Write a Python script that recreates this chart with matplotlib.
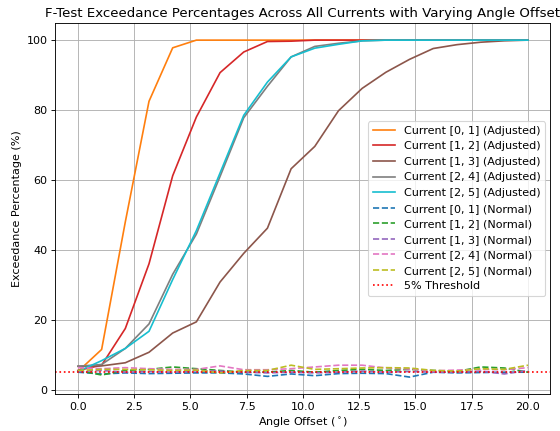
import numpy as np
import matplotlib
matplotlib.use("Agg")
import matplotlib.pyplot as plt

# angle offsets (degrees), 20 steps from 0 to 20
angles = np.linspace(0, 20, 20)

currents = ["[0, 1]", "[1, 2]", "[1, 3]", "[2, 4]", "[2, 5]"]

# adjusted F-test exceedance (%)
adj_01 = [5.2, 11.5, 48, 82.5, 97.8, 100, 100, 100, 100, 100,
          100, 100, 100, 100, 100, 100, 100, 100, 100, 100]
adj_12 = [5.5, 7, 17.5, 36, 61.2, 78, 90.7, 96.6, 99.6, 99.7,
          100, 100, 100, 100, 100, 100, 100, 100, 100, 100]
adj_13 = [6.7, 6.8, 7.7, 10.7, 16.2, 19.4, 30.8, 39, 46.2, 63.2,
          69.6, 79.8, 86.2, 90.8, 94.5, 97.6, 98.7, 99.4, 99.8, 100]
adj_24 = [6.7, 7.2, 11.8, 18.8, 33, 44.5, 61, 77.8, 86.8, 95.2,
          98.2, 99.1, 99.8, 100, 100, 100, 100, 100, 100, 100]
adj_25 = [5.2, 8.3, 11.8, 16.7, 31.5, 45.5, 62, 78.5, 88, 95.2,
          97.7, 98.8, 99.8, 100, 100, 100, 100, 100, 100, 100]

# normal F-test exceedance (%)
norm_01 = [5, 4.5, 4.8, 4.6, 4.7, 4.8, 4.8, 4.5, 3.8, 4.5,
           4.0, 4.6, 4.7, 4.6, 3.6, 5.0, 4.8, 4.9, 5.0, 5.0]
norm_12 = [5.5, 4.2, 5.5, 5.8, 6.5, 6.0, 5.5, 5.0, 5.0, 5.5,
           5.0, 5.5, 5.8, 5.5, 5.8, 5.5, 5.2, 6.5, 6.2, 5.0]
norm_13 = [5.2, 5.5, 5.0, 5.2, 5.0, 5.4, 5.3, 5.0, 4.8, 5.0,
           4.8, 5.0, 5.3, 5.0, 5.2, 5.0, 5.0, 5.3, 4.5, 5.5]
norm_24 = [6.3, 6.0, 6.3, 6.0, 5.8, 5.8, 6.8, 5.7, 5.7, 6.0,
           6.5, 7.0, 7.0, 6.2, 5.9, 5.4, 5.6, 5.8, 5.7, 6.3]
norm_25 = [5.5, 5.8, 5.8, 5.7, 5.5, 5.6, 4.8, 5.5, 5.5, 7.0,
           5.8, 6.0, 6.2, 6.3, 6.2, 5.5, 5.3, 6.0, 5.8, 7.0]

adjusted = [adj_01, adj_12, adj_13, adj_24, adj_25]
normal = [norm_01, norm_12, norm_13, norm_24, norm_25]
adj_colors = ["tab:orange", "tab:red", "tab:brown", "tab:gray", "tab:cyan"]
norm_colors = ["tab:blue", "tab:green", "tab:purple", "tab:pink", "tab:olive"]

fig, ax = plt.subplots(figsize=(7, 5.3875), dpi=80)

for c, vals, col in zip(currents, adjusted, adj_colors):
    ax.plot(angles, vals, color=col, label=f"Current {c} (Adjusted)")
for c, vals, col in zip(currents, normal, norm_colors):
    ax.plot(angles, vals, color=col, linestyle="--", label=f"Current {c} (Normal)")

ax.axhline(5, color="red", linestyle=":", label="5% Threshold")

ax.set_title("F-Test Exceedance Percentages Across All Currents with Varying Angle Offset")
ax.set_xlabel("Angle Offset ($^\\circ$)")
ax.set_ylabel("Exceedance Percentage (%)")
ax.grid(True)
ax.legend(loc="center right")

fig.subplots_adjust(left=0.099, right=0.983, top=0.946, bottom=0.086)
fig.savefig("out.png")
